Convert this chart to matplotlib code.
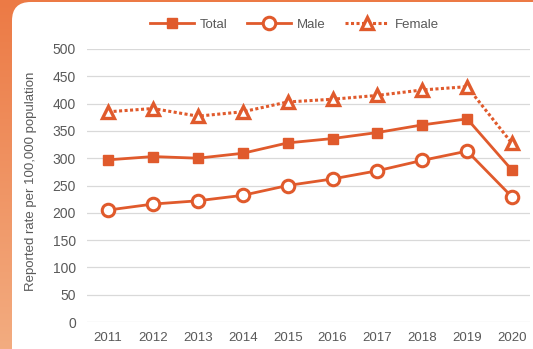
import numpy as np
import matplotlib.pyplot as plt
from matplotlib.patches import FancyBboxPatch
from matplotlib.lines import Line2D
from matplotlib.colors import LinearSegmentedColormap

# Reported rates per 100,000 population
years = ['2011', '2012', '2013', '2014', '2015', '2016', '2017', '2018', '2019', '2020']
total = [297, 303, 300, 309, 328, 336, 347, 361, 372, 278]
male = [205, 216, 222, 232, 250, 262, 277, 296, 313, 229]
female = [385, 391, 377, 385, 403, 408, 415, 425, 431, 327]

ORANGE = '#E05A2C'
GREY = '#595959'

plt.rcParams['font.family'] = ['Liberation Sans', 'DejaVu Sans']

fig = plt.figure(figsize=(5.33, 3.49), dpi=100)

# orange frame behind the white card
bg = fig.add_axes([0, 0, 1, 1])
bg.set_axis_off()
grad = np.linspace(0, 1, 256).reshape(-1, 1)
cmap = LinearSegmentedColormap.from_list('frame', ['#EC7A45', '#F3AC80'])
bg.imshow(grad, aspect='auto', cmap=cmap, extent=[0, 1, 0, 1], origin='upper')
card = FancyBboxPatch((12 / 533, -20 / 349), 1.2, (349 - 2 + 20) / 349,
                      boxstyle='round,pad=0,rounding_size=0.035',
                      transform=bg.transAxes, facecolor='white', edgecolor='none',
                      mutation_aspect=533 / 349)
bg.add_patch(card)
bg.set_xlim(0, 1)
bg.set_ylim(0, 1)

ax = fig.add_axes([87 / 533, 1 - 322 / 349, (530 - 87) / 533, (322 - 49) / 349])
ax.patch.set_alpha(0)
x = np.arange(len(years))

styles = [
    dict(color=ORANGE, lw=2.0, marker='s', ms=7.5, mfc=ORANGE, mec=ORANGE),
    dict(color=ORANGE, lw=2.0, marker='o', ms=9, mfc='white', mec=ORANGE, mew=2.2),
    dict(color=ORANGE, lw=2.2, ls=(0, (1, 0.8)), marker='^', ms=8.5, mfc='white',
         mec=ORANGE, mew=2.4),
]
for vals, name, st in zip([total, male, female], ['Total', 'Male', 'Female'], styles):
    ax.plot(x, vals, label=name, clip_on=False, zorder=3, **st)

ax.set_xlim(-0.47, 9.4)
ax.set_ylim(0, 500)
ax.set_yticks(range(0, 501, 50))
ax.set_xticks(x)
ax.set_xticklabels(years)
ax.grid(axis='y', color='#D9D9D9', lw=0.9)
ax.set_axisbelow(True)
for s in ax.spines.values():
    s.set_visible(False)
ax.tick_params(length=0, colors=GREY)
ax.tick_params(axis='y', labelsize=10, pad=8)
ax.tick_params(axis='x', labelsize=9.5, pad=7)
ax.set_ylabel('Reported rate per 100,000 population', fontsize=9.5, color=GREY)
ax.yaxis.set_label_coords(-0.112, 0.517)

handles = [Line2D([], [], **st) for st in styles]
fig.legend(handles, ['Total', 'Male', 'Female'], loc='center',
           bbox_to_anchor=(0.553, 1 - 25 / 349), ncol=3, frameon=False,
           fontsize=9.5, handlelength=3.3, columnspacing=1.5,
           handletextpad=0.45, labelcolor=GREY)

fig.savefig('out.png', dpi=100)
